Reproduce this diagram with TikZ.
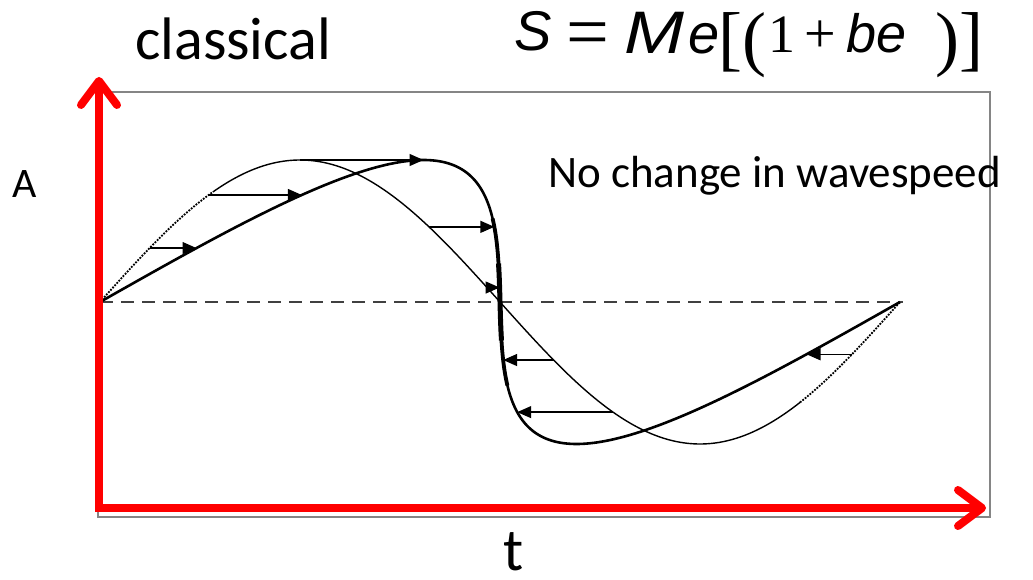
\documentclass[tikz,border=0pt]{standalone}
\usepackage{fontspec}
\usepackage{graphicx}
\setmainfont{Carlito}
\newfontfamily\fsans{Liberation Sans}
\newfontfamily\fserif{Liberation Serif}
\usetikzlibrary{arrows.meta}
\tikzset{
  redaxis/.style={draw=red, line width=8pt, line join=miter,
    {Straight Barb[round,length=24pt,width=36pt]}-{Straight Barb[round,length=24pt,width=36pt]}},
  framebox/.style={draw=black!48, line width=2pt},
  baseline/.style={draw=black!75, line width=1.2pt, dash pattern=on 13pt off 8pt},
  thinc/.style={draw=black, line width=1.4pt},
  thindot/.style={draw=black, line width=1.8pt, dash pattern=on 1.8pt off 1.3pt},
  thickc/.style={draw=black, line width=2.6pt},
  warrow/.style={draw=black, line width=1.3pt, -{Triangle[length=14pt,width=12pt]}},
  lbl/.style={inner sep=0pt, anchor=base west},
}
\begin{document}
\begin{tikzpicture}[x=1pt,y=-1pt]
\useasboundingbox (0,0) rectangle (1033,580);
% frame
\draw[framebox] (98,92) rectangle (990,517);
% baseline
\coordinate (b0) at (100,302);
\coordinate (b1) at (903,302);
\draw[baseline] (b0) -- (b1);
% original (thin) sine
\draw[thindot] plot[domain=0:113, samples=60, variable=\t] ({100+\t}, {302-142*sin(0.45*\t)});
\draw[thinc] plot[domain=113:700, samples=300, variable=\t] ({100+\t}, {302-142*sin(0.45*\t)});
\draw[thindot] plot[domain=700:800, samples=60, variable=\t] ({100+\t}, {302-142*sin(0.45*\t)});
% steepened (thick) wave
\draw[thickc] plot[domain=0:800, samples=500, variable=\t] ({100+\t+123.5*sin(0.45*\t)}, {302-142*sin(0.45*\t)});
\draw[draw=black, line width=3.8pt] plot[domain=320:480, samples=200, variable=\t] ({100+\t+123.5*sin(0.45*\t)}, {302-142*sin(0.45*\t)});
\draw[draw=black, line width=5pt] plot[domain=365:435, samples=120, variable=\t] ({100+\t+123.5*sin(0.45*\t)}, {302-142*sin(0.45*\t)});
% displacement arrows
\foreach \T/\n in {49.6/1, 108.7/2, 200/3, 329/4, 387/5, 453.6/6, 513/7, 752/8} {
  \coordinate (p\n) at ({100+\T}, {302-142*sin(0.45*\T)});
  \coordinate (q\n) at ({100+\T+123.5*sin(0.45*\T)}, {302-142*sin(0.45*\T)});
  \draw[warrow] (p\n) -- (q\n);
}
% red axes
\coordinate (ytop) at (99,77);
\coordinate (O) at (99,508);
\coordinate (xend) at (986,508);
\draw[redaxis] (ytop) -- (O) -- (xend);
% texts
\node[lbl] (cls) at (135,60) {\fontsize{60}{72}\selectfont classical};
\node[lbl] (nochg) at (548,188) {\fontsize{45}{54}\selectfont No change in wavespeed};
\node[lbl] (alab) at (12,197) {\fontsize{42}{50}\selectfont A};
\node[lbl] (tlab) at (503,570) {\fontsize{60}{72}\selectfont t};
% formula
\node[lbl] (fS) at (514,51) {\fsans\itshape\fontsize{56}{60}\selectfont S};
\node[lbl] (fEq) at (566,58) {\fserif\fontsize{76}{80}\selectfont =};
\node[lbl] (fM) at (624,54) {\fsans\itshape\fontsize{60}{64}\selectfont\scalebox{1.2}[1]{M}};
\node[lbl] (fe) at (688,54) {\fsans\itshape\fontsize{56}{60}\selectfont e};
\node[lbl] (fbr) at (718,63) {\fserif\fontsize{72}{80}\selectfont [(};
\node[lbl] (f1) at (768,53) {\fserif\fontsize{54}{60}\selectfont 1};
\node[lbl] (fplus) at (804,53) {\fserif\fontsize{56}{60}\selectfont +};
\node[lbl] (fbe) at (846,53) {\fsans\itshape\fontsize{54}{60}\selectfont be};
\node[lbl] (fcl) at (935,63) {\fserif\fontsize{72}{80}\selectfont )]};
\end{tikzpicture}
\end{document}
